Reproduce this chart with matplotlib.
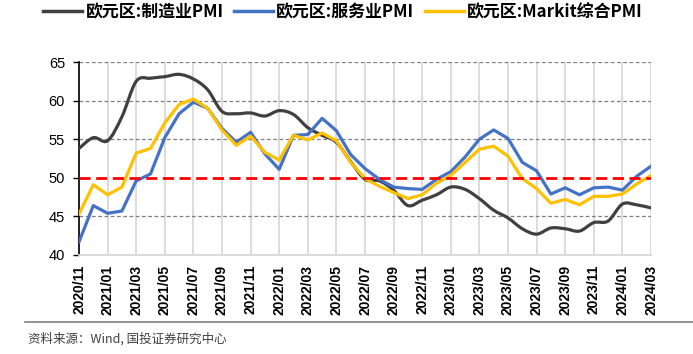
import matplotlib
matplotlib.use('Agg')
import matplotlib.pyplot as plt
import numpy as np
from matplotlib.path import Path
from matplotlib.patches import PathPatch
from matplotlib.lines import Line2D

# Months from 2020/11 to 2024/03
months = ['2020/11', '2020/12', '2021/01', '2021/02', '2021/03', '2021/04', '2021/05', '2021/06',
          '2021/07', '2021/08', '2021/09', '2021/10', '2021/11', '2021/12', '2022/01', '2022/02',
          '2022/03', '2022/04', '2022/05', '2022/06', '2022/07', '2022/08', '2022/09', '2022/10',
          '2022/11', '2022/12', '2023/01', '2023/02', '2023/03', '2023/04', '2023/05', '2023/06',
          '2023/07', '2023/08', '2023/09', '2023/10', '2023/11', '2023/12', '2024/01', '2024/02',
          '2024/03']

manufacturing = [53.8, 55.2, 54.8, 57.9, 62.5, 62.9, 63.1, 63.4, 62.8, 61.4, 58.6, 58.3, 58.4, 58.0,
                 58.7, 58.2, 56.5, 55.5, 54.6, 52.1, 49.8, 49.6, 48.4, 46.4, 47.1, 47.8, 48.8, 48.5,
                 47.3, 45.8, 44.8, 43.4, 42.7, 43.5, 43.4, 43.1, 44.2, 44.4, 46.6, 46.5, 46.1]
services = [41.7, 46.4, 45.4, 45.7, 49.6, 50.5, 55.2, 58.3, 59.8, 59.0, 56.4, 54.6, 55.9, 53.1,
            51.1, 55.5, 55.6, 57.7, 56.1, 53.0, 51.2, 49.8, 48.8, 48.6, 48.5, 49.8, 50.8, 52.7,
            55.0, 56.2, 55.1, 52.0, 50.9, 47.9, 48.7, 47.8, 48.7, 48.8, 48.4, 50.2, 51.5]
composite = [45.3, 49.1, 47.8, 48.8, 53.2, 53.8, 57.1, 59.5, 60.2, 59.0, 56.2, 54.2, 55.4, 53.3,
             52.3, 55.5, 54.9, 55.8, 54.8, 52.0, 49.9, 48.9, 48.1, 47.3, 47.8, 49.3, 50.3, 52.0,
             53.7, 54.1, 52.8, 49.9, 48.6, 46.7, 47.2, 46.5, 47.6, 47.6, 47.9, 49.2, 50.3]

labels = ['欧元区:制造业PMI', '欧元区:服务业PMI', '欧元区:Markit综合PMI']
colors = ['#404040', '#4472C4', '#FFC000']
yticks = [40, 45, 50, 55, 60, 65]

cjk = ['Noto Sans CJK SC', 'DejaVu Sans']
plt.rcParams['font.family'] = ['Liberation Sans', 'Noto Sans CJK SC', 'DejaVu Sans']


def smooth_path(xs, ys):
    # Catmull-Rom through the points, as bezier curves
    pts = np.column_stack([xs, ys])
    n = len(pts)
    verts = [pts[0]]
    codes = [Path.MOVETO]
    for i in range(n - 1):
        p0 = pts[max(i - 1, 0)]
        p1 = pts[i]
        p2 = pts[i + 1]
        p3 = pts[min(i + 2, n - 1)]
        c1 = p1 + (p2 - p0) / 6.0
        c2 = p2 - (p3 - p1) / 6.0
        verts += [c1, c2, p2]
        codes += [Path.CURVE4] * 3
    return Path(verts, codes)


fig = plt.figure(figsize=(6.93, 3.54), dpi=100)
ax = fig.add_axes([79 / 693, 1 - 255 / 354, (651 - 79) / 693, (255 - 62) / 354])

x = np.arange(len(months))

# gridlines
for xv in x[::2]:
    ax.axvline(xv, color='#D9D9D9', lw=1.3, zorder=0)
for yv in [45, 55, 60, 65]:
    ax.axhline(yv, color='#7F7F7F', lw=0.9, ls=(0, (3, 2)), zorder=0.5)
ax.axhline(50, color='#FF0000', lw=2, ls=(0, (4, 2)), zorder=4)

ax.add_patch(PathPatch(smooth_path(x, manufacturing), fill=False, edgecolor=colors[0], lw=2.3,
                       zorder=3, capstyle='round', joinstyle='round'))
ax.plot(x, services, color=colors[1], lw=2.3, zorder=3)
ax.plot(x, composite, color=colors[2], lw=2.3, zorder=3)

ax.set_xlim(0, 40)
ax.set_ylim(40, 65)
ax.set_yticks(yticks)
ax.set_yticklabels([str(v) for v in yticks], fontsize=10.5)
ax.set_xticks(x[::2])
ax.set_xticklabels(months[::2], rotation=90, fontsize=10, fontweight='bold')
ax.tick_params(axis='x', length=0, pad=7)
ax.tick_params(axis='y', length=4, width=1, direction='out', pad=6)

for s in ['top', 'right']:
    ax.spines[s].set_visible(False)
ax.spines['left'].set_color('black')
ax.spines['left'].set_linewidth(1.2)
ax.spines['bottom'].set_color('#D9D9D9')
ax.spines['bottom'].set_linewidth(1.3)

handles = [Line2D([], [], color=c, lw=2.5) for c in colors]
fig.legend(handles, labels, loc='center', bbox_to_anchor=(0.495, 1 - 12 / 354), ncol=3,
           frameon=False, handlelength=2.3, handletextpad=0.2, columnspacing=0.6,
           prop={'family': cjk, 'size': 12.2, 'weight': 'bold'})

# separator and source note
fig.add_artist(Line2D([25 / 693, 1], [1 - 322 / 354, 1 - 322 / 354], color='#808080', lw=1.2))
fig.text(28 / 693, 1 - 339 / 354, '资料来源：Wind, 国投证券研究中心', fontsize=9, family=cjk,
         style='italic', color='#404040', va='center')

fig.savefig('out.png', dpi=100)
